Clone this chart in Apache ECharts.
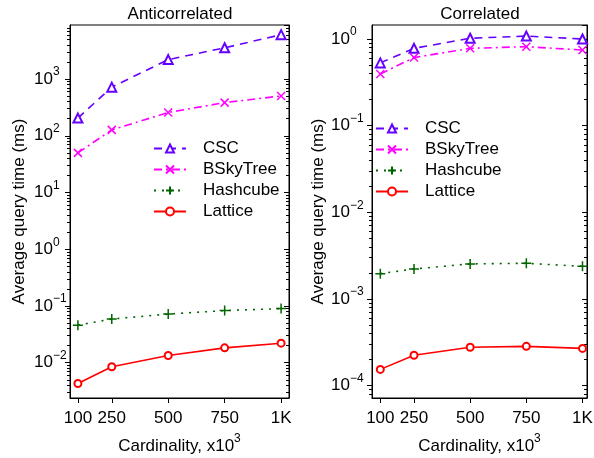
<!DOCTYPE html>
<html>
<head>
<meta charset="utf-8">
<script src="https://cdn.jsdelivr.net/npm/echarts@6/dist/echarts.min.js"></script>
<style>
  html, body { margin: 0; padding: 0; background: #fff; }
  #chart { width: 594px; height: 458px; }
</style>
</head>
<body>
<div id="chart"></div>
<script>
// x positions (cardinality, x10^3)
const cardinality = [100, 250, 500, 750, 1000];
const xTickLabels = ['100', '250', '500', '750', '1K'];

// Anticorrelated panel (ms)
const antiCSC = [205, 720, 2200, 3550, 6050];
const antiBSky = [50, 127, 257, 384, 503];
const antiHash = [0.046, 0.059, 0.072, 0.083, 0.090];
const antiLattice = [0.0043, 0.0085, 0.0134, 0.0183, 0.0221];

// Correlated panel (ms)
const corrCSC = [0.53, 0.78, 1.02, 1.08, 1.0];
const corrBSky = [0.395, 0.61, 0.78, 0.815, 0.746];
const corrHash = [0.00196, 0.00222, 0.00254, 0.00258, 0.00238];
const corrLattice = [0.000154, 0.000224, 0.000277, 0.000284, 0.000269];

// log-axis decades and minor tick multipliers
const antiDecades = [-3, -2, -1, 0, 1, 2, 3];
const corrDecades = [-5, -4, -3, -2, -1, 0];
const minorMultipliers = [2, 3, 4, 5, 6, 7, 8, 9];

const seriesNames = ['CSC', 'BSkyTree', 'Hashcube', 'Lattice'];

const FONT = "'Liberation Sans', Arial, Helvetica, sans-serif";
const MINUS = '\u2212';

const styles = {
    CSC: { color: '#6600ff', type: [8, 6], symbol: 'emptyTriangle', size: 9 },
    BSkyTree: { color: '#ff00ff', type: [8, 4, 2, 4], symbol: 'path://M0,0L10,10M10,0L0,10', size: 8 },
    Hashcube: { color: '#006400', type: [2, 6], symbol: 'path://M5,0L5,10M0,5L10,5', size: 10 },
    Lattice: { color: '#ff0000', type: 'solid', symbol: 'emptyCircle', size: 7 }
};

function pow10Label(v) {
    const e = Math.round(Math.log10(v));
    return '{b|10}{s|' + (e < 0 ? MINUS + (-e) : e) + '}';
}

const richSup = {
    b: { fontSize: 17, fontFamily: FONT, color: '#000' },
    s: { fontSize: 12, fontFamily: FONT, color: '#000', padding: [0, 0, 14, 0] }
};

function makeXAxis(grid, min, max) {
    return {
        type: 'value', gridIndex: grid, min: min, max: max,
        name: '{b|Cardinality, x10}{s|3}',
        nameLocation: 'middle', nameGap: 35,
        nameTextStyle: { rich: richSup },
        axisLine: { show: true, onZero: false, lineStyle: { color: '#000', width: 1 } },
        axisTick: { show: true, length: 5, lineStyle: { color: '#000' }, customValues: cardinality },
        axisLabel: {
            fontSize: 17, color: '#000', fontFamily: FONT, margin: 12,
            customValues: cardinality,
            formatter: function (v) { return xTickLabels[cardinality.indexOf(v)]; }
        },
        splitLine: { show: false }
    };
}

// minor ticks drawn on a companion linear axis running in log10 space
function minorValues(decades) {
    const out = [];
    decades.forEach(function (e) {
        minorMultipliers.forEach(function (m) { out.push(Math.log10(m) + e); });
    });
    return out;
}

function makeYAxes(grid, min, max, labelMargin, nameGap, decades) {
    const lmin = Math.log10(min), lmax = Math.log10(max);
    const minors = minorValues(decades).filter(function (v) { return v > lmin && v < lmax; });
    const logCommon = {
        type: 'log', logBase: 10, gridIndex: grid, min: min, max: max,
        splitLine: { show: false },
        minorSplitLine: { show: false },
        axisLine: { show: true, onZero: false, lineStyle: { color: '#000', width: 1 } }
    };
    const minorCommon = {
        type: 'value', gridIndex: grid, min: lmin, max: lmax,
        splitLine: { show: false },
        axisLine: { show: false, onZero: false },
        axisLabel: { show: false }
    };
    return [
        Object.assign({}, logCommon, {
            position: 'left',
            name: 'Average query time (ms)', nameLocation: 'middle', nameGap: nameGap, nameRotate: 90,
            nameTextStyle: { fontSize: 17, color: '#000', fontFamily: FONT },
            axisTick: { show: true, inside: false, length: 5, lineStyle: { color: '#000' } },
            axisLabel: {
                showMinLabel: false, showMaxLabel: false,
                align: 'left', margin: labelMargin,
                formatter: pow10Label, rich: richSup
            }
        }),
        Object.assign({}, logCommon, {
            position: 'right',
            axisTick: { show: true, inside: true, length: 5, lineStyle: { color: '#000' } },
            axisLabel: { show: false }
        }),
        Object.assign({}, minorCommon, {
            position: 'left',
            axisTick: { show: true, inside: false, length: 3, lineStyle: { color: '#000' }, customValues: minors }
        }),
        Object.assign({}, minorCommon, {
            position: 'right',
            axisTick: { show: true, inside: true, length: 3, lineStyle: { color: '#000' }, customValues: minors }
        })
    ];
}

function makeSeries(name, xs, ys, gridIdx) {
    const st = styles[name];
    return {
        name: name, type: 'line',
        xAxisIndex: gridIdx, yAxisIndex: gridIdx * 4,
        data: xs.map(function (x, i) { return [x, ys[i]]; }),
        symbol: st.symbol, symbolSize: st.size,
        lineStyle: { color: st.color, width: 1.6, type: st.type },
        itemStyle: { color: st.color, borderColor: st.color, borderWidth: 1.5 },
        emphasis: { disabled: true },
        animation: false
    };
}

function makeLegend(left, top) {
    return {
        orient: 'vertical', left: left, top: top, padding: 0,
        data: seriesNames,
        itemWidth: 32, itemHeight: 10, itemGap: 4,
        textStyle: { fontSize: 17, color: '#000', fontFamily: FONT, padding: [0, 0, 0, 12] },
        selectedMode: false
    };
}

const chart = echarts.init(document.getElementById('chart'), null, { renderer: 'canvas' });

const option = {
    backgroundColor: '#fff',
    animation: false,
    textStyle: { fontFamily: FONT },
    title: [
        { text: 'Anticorrelated', left: 180, top: 6, textAlign: 'center', padding: 0,
          textStyle: { fontSize: 17, fontWeight: 'normal', color: '#000', fontFamily: FONT } },
        { text: 'Correlated', left: 480, top: 6, textAlign: 'center', padding: 0,
          textStyle: { fontSize: 17, fontWeight: 'normal', color: '#000', fontFamily: FONT } }
    ],
    legend: [makeLegend(153, 140), makeLegend(375, 120)],
    grid: [
        { left: 70, top: 25, width: 219, height: 373, show: true, borderColor: '#000', borderWidth: 1, outerBoundsMode: 'none' },
        { left: 372, top: 25, width: 215, height: 373, show: true, borderColor: '#000', borderWidth: 1, outerBoundsMode: 'none' }
    ],
    xAxis: [makeXAxis(0, 65, 1035), makeXAxis(1, 63, 1020)],
    yAxis: makeYAxes(0, 0.00239, 8960, 36, 42, antiDecades)
        .concat(makeYAxes(1, 0.000072, 1.45, 41, 45, corrDecades)),
    series: [
        makeSeries('CSC', cardinality, antiCSC, 0),
        makeSeries('BSkyTree', cardinality, antiBSky, 0),
        makeSeries('Hashcube', cardinality, antiHash, 0),
        makeSeries('Lattice', cardinality, antiLattice, 0),
        makeSeries('CSC', cardinality, corrCSC, 1),
        makeSeries('BSkyTree', cardinality, corrBSky, 1),
        makeSeries('Hashcube', cardinality, corrHash, 1),
        makeSeries('Lattice', cardinality, corrLattice, 1)
    ]
};

chart.setOption(option);
</script>
</body>
</html>
